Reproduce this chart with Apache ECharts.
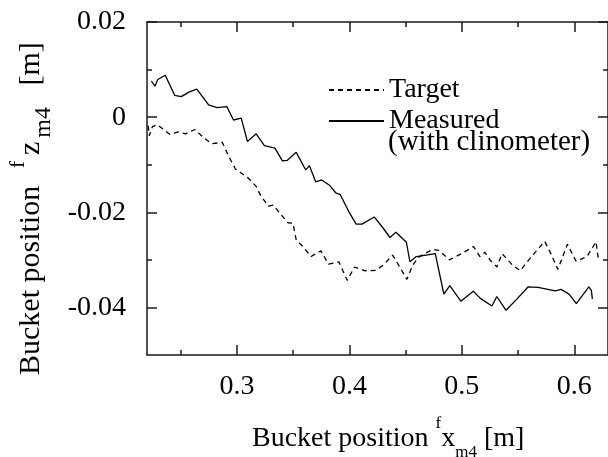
<!DOCTYPE html>
<html>
<head>
<meta charset="utf-8">
<script src="https://cdn.jsdelivr.net/npm/echarts@6/dist/echarts.min.js"></script>
<style>html,body{margin:0;padding:0;background:#fff;}#c{width:608px;height:457px;}</style>
</head>
<body>
<div id="c"></div>
<script>
// ---- data ----
var measuredX = [0.2239,0.2270,0.2296,0.2362,0.2446,0.2504,0.2577,0.2643,0.2748,0.2823,0.2911,0.2969,0.3038,0.3093,0.3171,0.3244,0.3338,0.3404,0.3446,0.3527,0.3612,0.3645,0.3700,0.3754,0.3823,0.3878,0.3919,0.3996,0.4060,0.4112,0.4222,0.4296,0.4361,0.4414,0.4507,0.4538,0.4595,0.4654,0.4764,0.4840,0.4893,0.4991,0.5102,0.5165,0.5268,0.5311,0.5393,0.5487,0.5589,0.5677,0.5832,0.5882,0.5954,0.6018,0.6130,0.6152,0.6161];
var measuredY = [0.0076,0.0065,0.0079,0.0088,0.0046,0.0043,0.0053,0.0059,0.0026,0.0020,0.0022,-0.0006,-0.0002,-0.0051,-0.0035,-0.0060,-0.0065,-0.0092,-0.0091,-0.0074,-0.0111,-0.0102,-0.0136,-0.0132,-0.0143,-0.0159,-0.0163,-0.0199,-0.0225,-0.0225,-0.0210,-0.0232,-0.0253,-0.0242,-0.0263,-0.0304,-0.0293,-0.0291,-0.0287,-0.0372,-0.0354,-0.0387,-0.0366,-0.0381,-0.0397,-0.0377,-0.0406,-0.0383,-0.0357,-0.0358,-0.0365,-0.0362,-0.0372,-0.0392,-0.0357,-0.0364,-0.0382];
var targetX = [0.2211,0.2220,0.2248,0.2292,0.2402,0.2481,0.2542,0.2625,0.2694,0.2775,0.2869,0.2928,0.2987,0.3095,0.3169,0.3209,0.3279,0.3323,0.3396,0.3454,0.3498,0.3527,0.3586,0.3659,0.3747,0.3814,0.3906,0.3981,0.4046,0.4139,0.4235,0.4303,0.4384,0.4448,0.4511,0.4564,0.4618,0.4739,0.4796,0.4889,0.4998,0.5104,0.5161,0.5203,0.5257,0.5312,0.5358,0.5443,0.5518,0.5634,0.5738,0.5794,0.5854,0.5939,0.6016,0.6113,0.6194,0.6213];
var targetY = [-0.0018,-0.0039,-0.0020,-0.0016,-0.0036,-0.0031,-0.0035,-0.0026,-0.0041,-0.0056,-0.0053,-0.0083,-0.0109,-0.0127,-0.0145,-0.0164,-0.0187,-0.0185,-0.0206,-0.0222,-0.0223,-0.0258,-0.0272,-0.0293,-0.0281,-0.0309,-0.0304,-0.0343,-0.0315,-0.0323,-0.0322,-0.0311,-0.0290,-0.0315,-0.0341,-0.0311,-0.0294,-0.0278,-0.0280,-0.0300,-0.0287,-0.0272,-0.0293,-0.0284,-0.0302,-0.0315,-0.0287,-0.0309,-0.0323,-0.0289,-0.0261,-0.0288,-0.0320,-0.0267,-0.0303,-0.0293,-0.0262,-0.0297];
var xMajorTicks = [0.3, 0.4, 0.5, 0.6];
var xMinorTicks = [0.25, 0.35, 0.45, 0.55];
var yMajorTicks = [-0.04, -0.02, 0, 0.02];
var yMinorTicks = [-0.03, -0.01, 0.01];
var seriesNames = ['Target', 'Measured'];

function zip(xs, ys) { return xs.map(function (x, i) { return [x, ys[i]]; }); }

var FONT = 'Liberation Serif';
var INK = '#1a1a1a';
var chart = echarts.init(document.getElementById('c'), null, {renderer: 'canvas'});

function xAx(pos, ticks, len, showLine, showLabel) {
  return {
    type: 'value', min: 0.22, max: 0.63, position: pos, gridIndex: 0,
    axisLine: {show: showLine, onZero: false, lineStyle: {color: INK, width: 1.5}},
    axisTick: {show: true, inside: true, length: len, customValues: ticks, lineStyle: {color: INK, width: 1.5}},
    axisLabel: {show: showLabel, customValues: ticks, margin: 18, fontFamily: FONT, fontSize: 28, color: '#000', lineHeight: 28,
      formatter: function (v) { return v.toFixed(1); }},
    splitLine: {show: false}
  };
}
function yAx(pos, ticks, len, showLine, showLabel) {
  return {
    type: 'value', min: -0.05, max: 0.02, position: pos, gridIndex: 0,
    axisLine: {show: showLine, onZero: false, lineStyle: {color: INK, width: 1.5}},
    axisTick: {show: true, inside: true, length: len, customValues: ticks, lineStyle: {color: INK, width: 1.5}},
    axisLabel: {show: showLabel, customValues: ticks, margin: 21, fontFamily: FONT, fontSize: 28, color: '#000',
      formatter: function (v) { return Math.abs(v) < 1e-9 ? '0' : v.toFixed(2); }},
    splitLine: {show: false}
  };
}

var option = {
  animation: false,
  backgroundColor: '#fff',
  grid: {left: 147, top: 22, width: 467, height: 333, containLabel: false},
  xAxis: [
    xAx('bottom', xMajorTicks, 10, true, true),
    xAx('bottom', xMinorTicks, 5, false, false),
    xAx('top', xMajorTicks, 10, true, false),
    xAx('top', xMinorTicks, 5, false, false)
  ],
  yAxis: [
    yAx('left', yMajorTicks, 10, true, true),
    yAx('left', yMinorTicks, 5, false, false),
    yAx('right', yMajorTicks, 10, true, false),
    yAx('right', yMinorTicks, 5, false, false)
  ],
  legend: {
    orient: 'vertical', left: 328, top: 75, padding: 0, itemGap: 1,
    itemWidth: 55, itemHeight: 14, selectedMode: false,
    itemStyle: {opacity: 0, color: 'rgba(0,0,0,0)', borderWidth: 0},
    textStyle: {fontFamily: FONT, fontSize: 28, color: '#000'},
    data: [
      {name: seriesNames[0], textStyle: {lineHeight: 22, padding: [0, 0, 8, 0]}},
      {name: seriesNames[1], textStyle: {lineHeight: 30}}
    ]
  },
  series: [
    {name: seriesNames[0], type: 'line', xAxisIndex: 0, yAxisIndex: 0, data: zip(targetX, targetY),
      symbol: 'none', showSymbol: false, lineStyle: {color: '#000', width: 1.3, type: [5, 4]}, itemStyle: {color: '#000'}},
    {name: seriesNames[1], type: 'line', xAxisIndex: 0, yAxisIndex: 0, data: zip(measuredX, measuredY),
      symbol: 'none', showSymbol: false, lineStyle: {color: '#000', width: 1.3, type: 'solid'}, itemStyle: {color: '#000'}}
  ],
  graphic: [
    {type: 'text', x: 388, y: 142, silent: true,
      style: {text: '(with clinometer)', font: '29px "Liberation Serif"', fill: '#000',
        textAlign: 'left', textVerticalAlign: 'middle', align: 'left', verticalAlign: 'middle'}},
    {type: 'text', x: 252, y: 438.5, silent: true,
      style: {text: '{m|Bucket position }{sup|f}{m|x}{sub|m4}{m| [m]}', fill: '#000',
        textAlign: 'left', textVerticalAlign: 'middle', align: 'left', verticalAlign: 'middle',
        rich: {
          m: {fontFamily: FONT, fontSize: 28, lineHeight: 46, verticalAlign: 'middle', fill: '#000', color: '#000'},
          sup: {fontFamily: FONT, fontSize: 17, lineHeight: 17, verticalAlign: 'top', fill: '#000', color: '#000'},
          sub: {fontFamily: FONT, fontSize: 17, lineHeight: 31, verticalAlign: 'bottom', fill: '#000', color: '#000'}
        }}},
    {type: 'text', x: 31.6, y: 375, rotation: Math.PI / 2, silent: true,
      style: {text: '{m|Bucket position }{sup|f}{m|z}{sub|m4}{m| [m]}', fill: '#000',
        textAlign: 'left', textVerticalAlign: 'middle', align: 'left', verticalAlign: 'middle',
        rich: {
          m: {fontFamily: FONT, fontSize: 30, lineHeight: 48, verticalAlign: 'middle', fill: '#000', color: '#000'},
          sup: {fontFamily: FONT, fontSize: 22, lineHeight: 22, verticalAlign: 'top', fill: '#000', color: '#000', padding: [0, 6, 0, 10]},
          sub: {fontFamily: FONT, fontSize: 24, lineHeight: 38, verticalAlign: 'bottom', fill: '#000', color: '#000', padding: [0, 14, 0, 4]}
        }}}
  ]
};
chart.setOption(option);
</script>
</body>
</html>
